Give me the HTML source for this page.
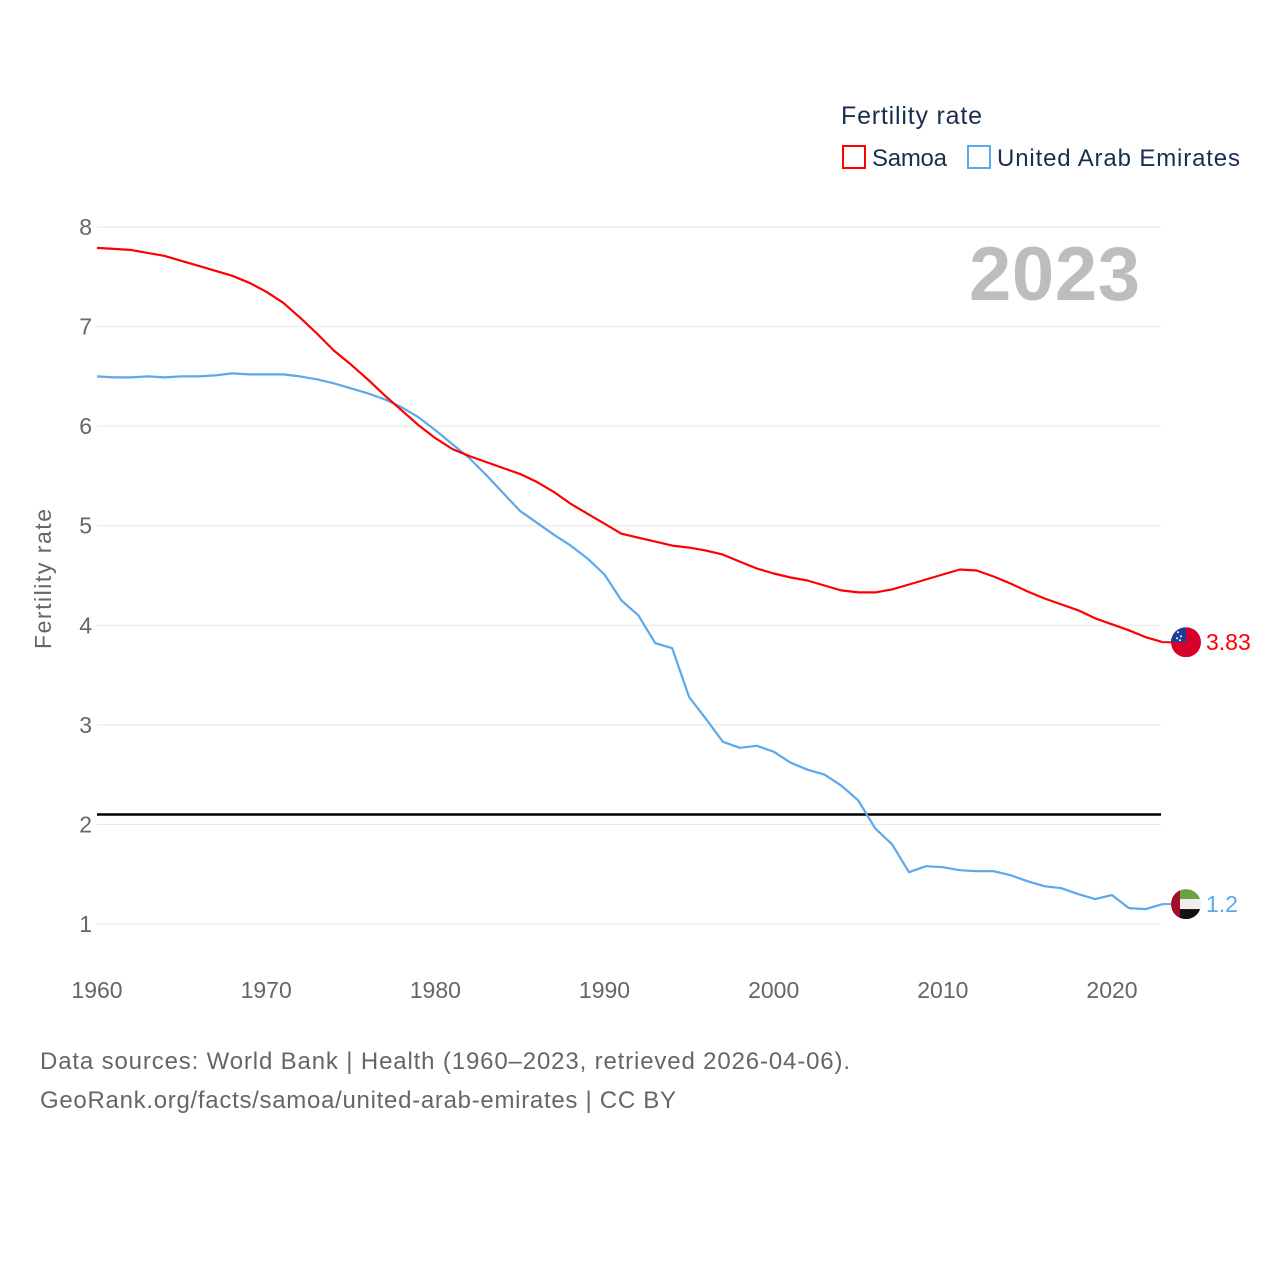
<!DOCTYPE html>
<html><head><meta charset="utf-8"><style>
html,body{margin:0;padding:0;background:#fff;}
svg{display:block;font-family:"Liberation Sans",sans-serif;}
</style></head><body>
<svg id="chart" width="1280" height="1280" viewBox="0 0 1280 1280">
  <g id="grid"></g>
  <g id="yticks"></g>
  <g id="xticks"></g>
  <text x="51" y="579" transform="rotate(-90 51 579)" text-anchor="middle" font-size="23" fill="#666" textLength="140">Fertility rate</text>
  <text x="1140" y="300" text-anchor="end" font-size="76" font-weight="bold" fill="#bdbdbd" textLength="171">2023</text>
  <line id="repl" x1="97" x2="1161" stroke="#000" stroke-width="2.5"></line>
  <g id="series"></g>
  <g>
    <text x="841" y="124" font-size="25" fill="#1a2e4f" textLength="141">Fertility rate</text>
    <rect x="843" y="146" width="22" height="22" fill="none" stroke="#ff0000" stroke-width="2"></rect>
    <text x="872" y="166" font-size="24" fill="#1a2e4f" textLength="75">Samoa</text>
    <rect x="968" y="146" width="22" height="22" fill="none" stroke="#5ca8ec" stroke-width="2"></rect>
    <text x="997" y="166" font-size="24" fill="#1a2e4f" textLength="243">United Arab Emirates</text>
  </g>
  <text x="40" y="1069" font-size="24" fill="#666" textLength="810">Data sources: World Bank | Health (1960–2023, retrieved 2026-04-06).</text>
  <text x="40" y="1108" font-size="24" fill="#666" textLength="636">GeoRank.org/facts/samoa/united-arab-emirates | CC BY</text>
</svg>
<script>
const years = [];
for (let y = 1960; y <= 2023; y++) years.push(y);
const samoa = [7.79,7.78,7.77,7.74,7.71,7.66,7.61,7.56,7.51,7.44,7.35,7.24,7.09,6.93,6.76,6.62,6.47,6.31,6.16,6.01,5.88,5.77,5.70,5.64,5.58,5.52,5.44,5.34,5.22,5.12,5.02,4.92,4.88,4.84,4.80,4.78,4.75,4.71,4.64,4.57,4.52,4.48,4.45,4.40,4.35,4.33,4.33,4.36,4.41,4.46,4.51,4.56,4.55,4.49,4.42,4.34,4.27,4.21,4.15,4.07,4.01,3.95,3.88,3.83];
const uae = [6.50,6.49,6.49,6.50,6.49,6.50,6.50,6.51,6.53,6.52,6.52,6.52,6.50,6.47,6.43,6.38,6.33,6.27,6.19,6.09,5.96,5.82,5.68,5.51,5.33,5.15,5.03,4.91,4.80,4.67,4.51,4.25,4.10,3.82,3.77,3.28,3.06,2.83,2.77,2.79,2.73,2.62,2.55,2.50,2.39,2.24,1.96,1.80,1.52,1.58,1.57,1.54,1.53,1.53,1.49,1.43,1.38,1.36,1.30,1.25,1.29,1.16,1.15,1.20];
const yTicks = [1,2,3,4,5,6,7,8];
const xTicks = [1960,1970,1980,1990,2000,2010,2020];
const replacementRate = 2.1;
const samoaLabel = "3.83";
const uaeLabel = "1.2";

const NS = "http://www.w3.org/2000/svg";
const X = yr => 97 + (yr - 1960) * (1015 / 60);
const Y = v => 227 + (8 - v) * (697 / 7);
function mk(tag, attrs, parent, txt){
  const e = document.createElementNS(NS, tag);
  for (const k in attrs) e.setAttribute(k, attrs[k]);
  if (txt !== undefined) e.textContent = txt;
  parent.appendChild(e); return e;
}
const grid = document.getElementById('grid'), yt = document.getElementById('yticks'), xt = document.getElementById('xticks');
yTicks.forEach(v => {
  const l = mk('line', {x1:97, x2:1161, y1:Y(v), y2:Y(v), stroke:'#e6e6e6', 'stroke-width':1}, grid);
  
  
  const t = mk('text', {x:92, y:Y(v)+8, 'text-anchor':'end', 'font-size':23, fill:'#666'}, yt, String(v));
  
  
});
xTicks.forEach(v => {
  const t = mk('text', {x:X(v), y:998, 'text-anchor':'middle', 'font-size':23, fill:'#666'}, xt, String(v));
  
  
});
const rl = document.getElementById('repl');
rl.setAttribute('y1', Y(replacementRate)); rl.setAttribute('y2', Y(replacementRate));

const ser = document.getElementById('series');
function drawSeries(vals, color, name, label){
  const d = vals.map((v,i) => (i?'L':'M') + X(years[i]).toFixed(1) + ' ' + Y(v).toFixed(1)).join(' ');
  const p = mk('path', {d:d, fill:'none', stroke:color, 'stroke-width':2.2, 'stroke-linejoin':'round'}, ser);
  
  
  const last = vals[vals.length-1], ly = Y(last), lx = X(years[years.length-1]);
  const lk = mk('line', {x1:lx, x2:lx+10, y1:ly, y2:ly, stroke:color, 'stroke-width':2}, ser);
  
  
  const g = mk('g', {}, ser);
  
  
  const cx = 1186, r = 15;
  const cid = 'clip-' + name;
  const cp = mk('clipPath', {id:cid}, g); mk('circle', {cx:cx, cy:ly, r:r}, cp);
  const fg = mk('g', {'clip-path':'url(#'+cid+')'}, g);
  if (name === 'samoa') {
    mk('rect', {x:cx-r, y:ly-r, width:2*r, height:2*r, fill:'#d7002a'}, fg);
    mk('rect', {x:cx-r, y:ly-r, width:r, height:r, fill:'#1d3f97'}, fg);
    [[-8,-10],[-5,-6],[-9,-4],[-6,-2]].forEach(s => mk('circle', {cx:cx+s[0], cy:ly+s[1], r:1, fill:'#fff'}, fg));
  } else {
    mk('rect', {x:cx-r, y:ly-r, width:2*r, height:2*r/3, fill:'#6aa343'}, fg);
    mk('rect', {x:cx-r, y:ly-r/3, width:2*r, height:2*r/3, fill:'#eeeeee'}, fg);
    mk('rect', {x:cx-r, y:ly+r/3, width:2*r, height:2*r/3, fill:'#111'}, fg);
    mk('rect', {x:cx-r, y:ly-r, width:9, height:2*r, fill:'#a0102a'}, fg);
  }
  const t = mk('text', {x:1206, y:ly+8, 'font-size':23, fill:color}, ser, label);
  
  
}
drawSeries(uae, '#5ca8ec', 'uae', uaeLabel);
drawSeries(samoa, '#ff0000', 'samoa', samoaLabel);
</script>
</body></html>
